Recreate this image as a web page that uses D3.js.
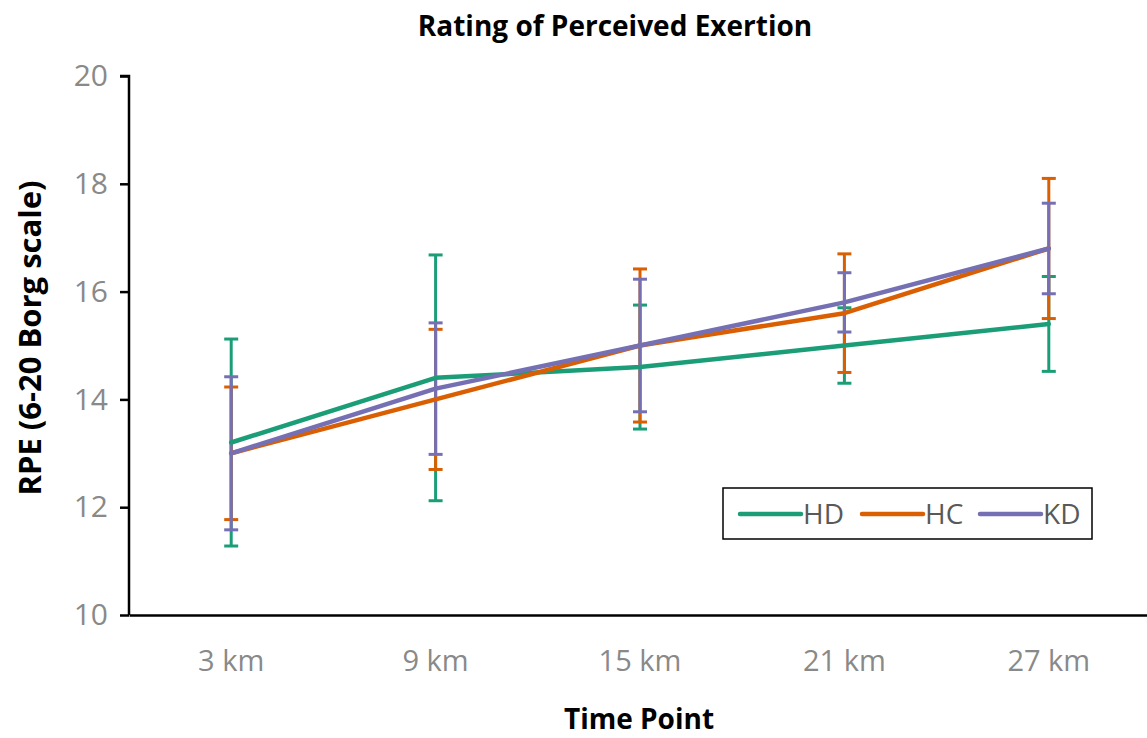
<!DOCTYPE html>
<html>
<head>
<meta charset="utf-8">
<script src="https://cdn.jsdelivr.net/npm/d3@7"></script>
<style>
  body { margin: 0; background: #fff; }
  text { font-family: "Open Sans", Lato, sans-serif; }
</style>
</head>
<body>
<svg id="chart" width="1147" height="738"></svg>
<script>
// data
var timePoints = ["3 km", "9 km", "15 km", "21 km", "27 km"];
var seriesNames = ["HD", "HC", "KD"];
var hdMean = [13.2, 14.4, 14.6, 15.0, 15.4];
var hdSd   = [1.92, 2.28, 1.15, 0.70, 0.88];
var hcMean = [13.0, 14.0, 15.0, 15.6, 16.8];
var hcSd   = [1.23, 1.30, 1.42, 1.10, 1.30];
var kdMean = [13.0, 14.2, 15.0, 15.8, 16.8];
var kdSd   = [1.42, 1.22, 1.23, 0.55, 0.84];
var yTicks = [10, 12, 14, 16, 18, 20];

var colors = ["#1b9e77", "#d95f02", "#7570b3"];
var series = [
  {name: seriesNames[0], mean: hdMean, sd: hdSd, color: colors[0]},
  {name: seriesNames[1], mean: hcMean, sd: hcSd, color: colors[1]},
  {name: seriesNames[2], mean: kdMean, sd: kdSd, color: colors[2]}
];

var svg = d3.select("#chart");
var plotLeft = 129, plotRight = 1151, plotTop = 76, plotBottom = 615;

var x = d3.scaleBand().domain(timePoints).range([plotLeft, plotRight]);
var y = d3.scaleLinear().domain([10, 20]).range([plotBottom, plotTop]);
var cx = function(d) { return x(d) + x.bandwidth() / 2; };

// title
svg.append("text").attr("x", 615).attr("y", 36)
  .attr("text-anchor", "middle").style("font-size", "28px").style("font-weight", "bold")
  .style("fill", "#000").text("Rating of Perceived Exertion");

// y axis
var yAxis = svg.append("g").attr("transform", "translate(" + plotLeft + ",0)")
  .call(d3.axisLeft(y).tickValues(yTicks).tickSize(9).tickPadding(12));
yAxis.select(".domain").attr("stroke", "#000").attr("stroke-width", 2.5)
  .attr("d", "M-9," + plotTop + "H0V" + plotBottom);
yAxis.selectAll(".tick line").attr("stroke", "#000").attr("stroke-width", 2.5);
yAxis.selectAll(".tick text").style("font-size", "30px").style("fill", "#898989")
  .style("font-family", "'Open Sans', Lato, sans-serif");

// x axis
var xAxis = svg.append("g").attr("transform", "translate(0," + plotBottom + ")")
  .call(d3.axisBottom(x).tickSize(0).tickPadding(35));
xAxis.select(".domain").attr("stroke", "#000").attr("stroke-width", 2.5);
xAxis.selectAll(".tick text").style("font-size", "29px").style("fill", "#898989")
  .style("font-family", "'Open Sans', Lato, sans-serif");

// axis titles
svg.append("text").attr("transform", "translate(41,338) rotate(-90)")
  .attr("text-anchor", "middle").style("font-size", "31px").style("font-weight", "bold")
  .text("RPE (6-20 Borg scale)");
svg.append("text").attr("x", 639).attr("y", 729)
  .attr("text-anchor", "middle").style("font-size", "28px").style("font-weight", "bold")
  .text("Time Point");

// error bars
var capW = 7;
series.forEach(function(s) {
  var g = svg.append("g").attr("stroke", s.color).attr("stroke-width", 3);
  timePoints.forEach(function(t, i) {
    var hi = y(s.mean[i] + s.sd[i]), lo = y(s.mean[i] - s.sd[i]);
    g.append("line").attr("x1", cx(t)).attr("x2", cx(t)).attr("y1", hi).attr("y2", lo);
    g.append("line").attr("x1", cx(t) - capW).attr("x2", cx(t) + capW).attr("y1", hi).attr("y2", hi);
    g.append("line").attr("x1", cx(t) - capW).attr("x2", cx(t) + capW).attr("y1", lo).attr("y2", lo);
  });
});

// lines
var line = d3.line()
  .x(function(d, i) { return cx(timePoints[i]); })
  .y(function(d) { return y(d); });
series.forEach(function(s) {
  svg.append("path").datum(s.mean).attr("d", line)
    .attr("fill", "none").attr("stroke", s.color).attr("stroke-width", 4.5)
    .attr("stroke-linecap", "round").attr("stroke-linejoin", "round");
});

// legend
var lg = svg.append("g").attr("transform", "translate(723,488)");
lg.append("rect").attr("width", 369).attr("height", 51)
  .attr("fill", "#fff").attr("stroke", "#000").attr("stroke-width", 1.5);
var legX = [17, 139, 257];
series.forEach(function(s, i) {
  lg.append("line").attr("x1", legX[i]).attr("x2", legX[i] + 61).attr("y1", 26).attr("y2", 26)
    .attr("stroke", s.color).attr("stroke-width", 4.5).attr("stroke-linecap", "round");
  lg.append("text").attr("x", legX[i] + 63).attr("y", 36)
    .style("font-size", "28px").style("fill", "#595959").text(s.name);
});
</script>
</body>
</html>
